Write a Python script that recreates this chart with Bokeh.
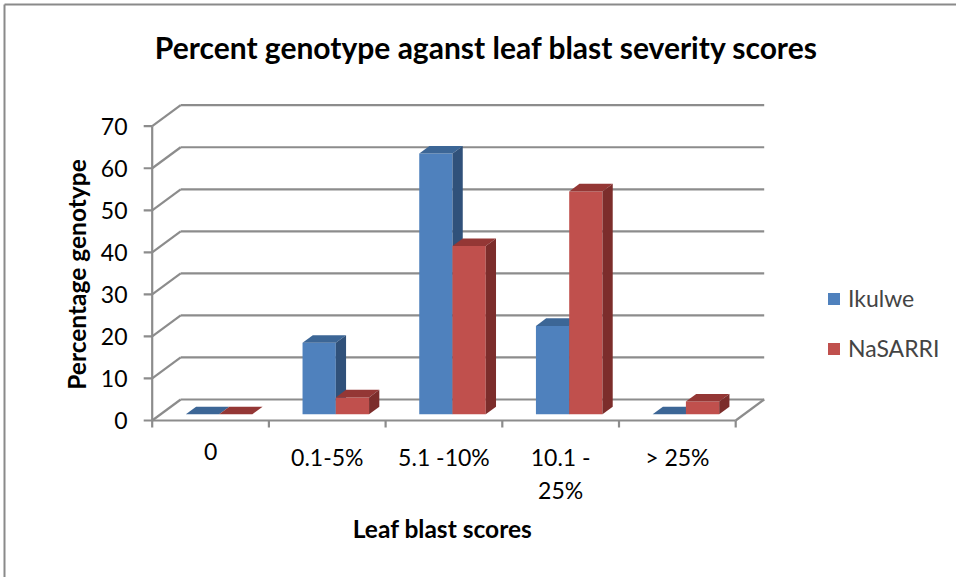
from bokeh.plotting import figure
from bokeh.models import Range1d, Legend, LegendItem
from bokeh.core.properties import value
from bokeh.embed import file_html
from bokeh.resources import INLINE
import math

# ---------------- data ----------------
categories = ["0", "0.1-5%", "5.1 -10%", "10.1 -\n25%", "> 25%"]
ikulwe = [0, 17, 62, 21, 0]
nasarri = [0, 4, 40, 53, 3]
series_names = ["Ikulwe", "NaSARRI"]
y_ticks = [0, 10, 20, 30, 40, 50, 60, 70]
title_text = "Percent genotype aganst leaf blast severity scores"
x_title = "Leaf blast scores"
y_title = "Percentage genotype"

# ---------------- layout / style ----------------
W, H = 956, 577
PX0, CAT_W = 151.7, 116.7      # screen x of category 0, px per category
PY0, VAL_PX = 420.0, 4.204     # screen y of value 0, px per value unit
DX = 28.5 / CAT_W              # depth offset (category units)
DY = 21.0 / VAL_PX             # depth offset (value units)
F0, F1 = 0.30, 0.66            # bar depth span (fraction of depth)
GROUP_OFF, BAR_W = 0.215, 0.285
NCAT = len(categories)
YMAX = y_ticks[-1]

FONT = "Lato"
GRID = "#8c8c8c"
FRONT = ["#4F81BD", "#C0504D"]
TOP = ["#3C6696", "#943735"]
SIDE = ["#30517A", "#7C2D2B"]


def sx(px):
    return (px - PX0) / CAT_W


def sy(py):
    return (PY0 - py) / VAL_PX


p = figure(width=W, height=H, output_backend="svg", toolbar_location=None,
           x_range=Range1d(sx(0), sx(W)), y_range=Range1d(sy(H), sy(0)),
           x_axis_location=None, y_axis_location=None, title=None,
           min_border=0, outline_line_color=None)
p.xgrid.visible = False
p.ygrid.visible = False
p.background_fill_color = "white"
p.border_fill_color = "white"

# outer chart border (left, top)
p.segment(x0=[sx(4), sx(4)], y0=[sy(4), sy(4)], x1=[sx(4), sx(W)], y1=[sy(H), sy(4)],
          line_color="#8a8a8a", line_width=2)

# ---------------- walls / gridlines ----------------
p.segment(x0=[DX] * len(y_ticks), y0=[t + DY for t in y_ticks],
          x1=[NCAT + DX] * len(y_ticks), y1=[t + DY for t in y_ticks],
          line_color=GRID, line_width=2.2)
p.segment(x0=[0] * len(y_ticks), y0=y_ticks,
          x1=[DX] * len(y_ticks), y1=[t + DY for t in y_ticks],
          line_color=GRID, line_width=2.2)
p.segment(x0=[0, NCAT], y0=[0, 0], x1=[NCAT, NCAT + DX], y1=[0, DY],
          line_color=GRID, line_width=2.2)
p.segment(x0=[0], y0=[0], x1=[0], y1=[YMAX], line_color=GRID, line_width=2.2)
tl = 8.5 / CAT_W
p.segment(x0=[-tl] * len(y_ticks), y0=y_ticks, x1=[0] * len(y_ticks), y1=y_ticks,
          line_color=GRID, line_width=2.2)
ctl = 7.0 / VAL_PX
p.segment(x0=list(range(NCAT + 1)), y0=[0] * (NCAT + 1),
          x1=list(range(NCAT + 1)), y1=[-ctl] * (NCAT + 1),
          line_color=GRID, line_width=2.2)

# ---------------- bars ----------------
front_renderers = []
for s, vals in enumerate([ikulwe, nasarri]):
    lefts, rights, bots, tops = [], [], [], []
    txs, tys, sxs, sys_ = [], [], [], []
    ddx = (F1 - F0) * DX
    ddy = (F1 - F0) * DY
    for i, v in enumerate(vals):
        x0 = i + GROUP_OFF + s * BAR_W + F0 * DX
        x1 = x0 + BAR_W
        b = F0 * DY
        t = v + F0 * DY
        lefts.append(x0); rights.append(x1); bots.append(b); tops.append(t)
        txs.append([x0, x1, x1 + ddx, x0 + ddx])
        tys.append([t, t, t + ddy, t + ddy])
        sxs.append([x1, x1 + ddx, x1 + ddx, x1])
        sys_.append([b, b + ddy, t + ddy, t])
    r = p.quad(left=lefts, right=rights, bottom=bots, top=tops,
               fill_color=FRONT[s], line_color=None)
    p.patches(xs=txs, ys=tys, fill_color=TOP[s], line_color=None)
    p.patches(xs=sxs, ys=sys_, fill_color=SIDE[s], line_color=None)
    front_renderers.append(r)

# ---------------- texts ----------------
p.text(x=[sx(127)] * len(y_ticks), y=y_ticks, text=[str(t) for t in y_ticks],
       text_font=value(FONT), text_font_size="23px", text_align="right",
       text_baseline="middle", text_color="black")

p.text(x=[i + 0.5 for i in range(NCAT)], y=[sy(442)] * NCAT, text=categories,
       text_font=value(FONT), text_font_size="23px", text_align="center",
       text_baseline="top", text_color="black", text_line_height=1.2)

p.text(x=[sx(442)], y=[sy(528)], text=[x_title], text_font=value(FONT),
       text_font_size="24.5px", text_font_style="bold", text_align="center",
       text_baseline="middle", text_color="black")

p.text(x=[sx(76)], y=[sy(274)], text=[y_title], text_font=value(FONT),
       text_font_size="24.5px", text_font_style="bold", text_align="center",
       text_baseline="middle", text_color="black", angle=math.pi / 2)

p.text(x=[sx(486)], y=[sy(46)], text=[title_text], text_font=value(FONT),
       text_font_size="30px", text_font_style="bold", text_align="center",
       text_baseline="middle", text_color="black")

legend = Legend(items=[LegendItem(label=n, renderers=[r])
                       for n, r in zip(series_names, front_renderers)],
                location=(826, 215), orientation="vertical",
                border_line_color=None, background_fill_alpha=0,
                glyph_width=15, glyph_height=15, label_standoff=7,
                label_text_font=FONT, label_text_font_size="23px",
                spacing=22, padding=0, margin=0)
p.add_layout(legend)

open("out.html", "w").write(file_html(p, INLINE))
